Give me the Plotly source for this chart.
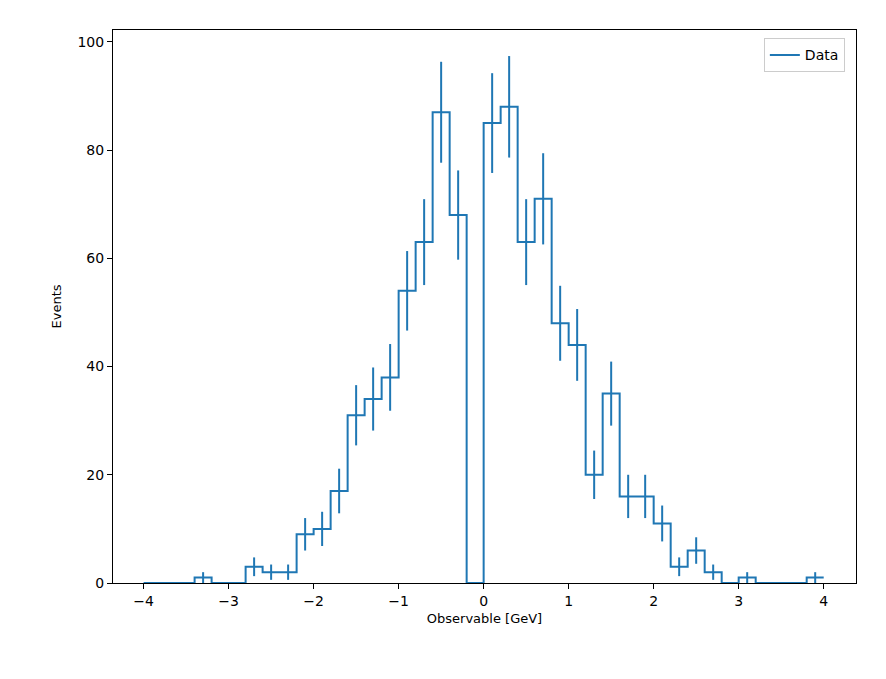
import numpy as np
import plotly.graph_objects as go

edges = [round(-4 + 0.2 * i, 1) for i in range(41)]
counts = [0, 0, 0, 1, 0, 0, 3, 2, 2, 9, 10, 17, 31, 34, 38, 54, 63, 87, 68, 0,
          85, 88, 63, 71, 48, 44, 20, 35, 16, 16, 11, 3, 6, 2, 0, 1, 0, 0, 0, 1]

blue = "#1f77b4"
centers = [(edges[i] + edges[i + 1]) / 2 for i in range(len(counts))]
ex = [c for c, n in zip(centers, counts) if n > 0]
ey = [n for n in counts if n > 0]
err = [float(np.sqrt(n)) for n in ey]

fig = go.Figure()
fig.add_trace(go.Scatter(x=edges, y=counts + [counts[-1]], mode="lines", line_shape="hv",
                         line=dict(color=blue, width=2), name="Data", showlegend=True))
fig.add_trace(go.Scatter(x=ex, y=ey, mode="markers", marker=dict(size=0.1, color=blue),
                         error_y=dict(type="data", array=err, color=blue, thickness=2, width=0),
                         showlegend=False, hoverinfo="skip"))

axis = dict(showline=True, linecolor="black", linewidth=1, mirror=True, ticks="outside",
            ticklen=5, tickcolor="black", showgrid=False, zeroline=False,
            tickfont=dict(size=14, color="black"))
fig.update_layout(
    width=886, height=679, plot_bgcolor="white", paper_bgcolor="white",
    font=dict(family="DejaVu Sans", size=13, color="black"),
    margin=dict(l=105, r=38, t=22, b=104),
    xaxis=dict(axis, range=[-4.36, 4.38], dtick=1,
               title=dict(text="Observable [GeV]", standoff=6, font=dict(size=13))),
    yaxis=dict(axis, range=[0, 102.2], dtick=20,
               title=dict(text="Events", standoff=12, font=dict(size=13))),
    legend=dict(x=0.985, y=0.985, xanchor="right", yanchor="top", bordercolor="#cccccc",
                borderwidth=1, bgcolor="white", font=dict(size=14)),
)
fig.write_html("out.html")
